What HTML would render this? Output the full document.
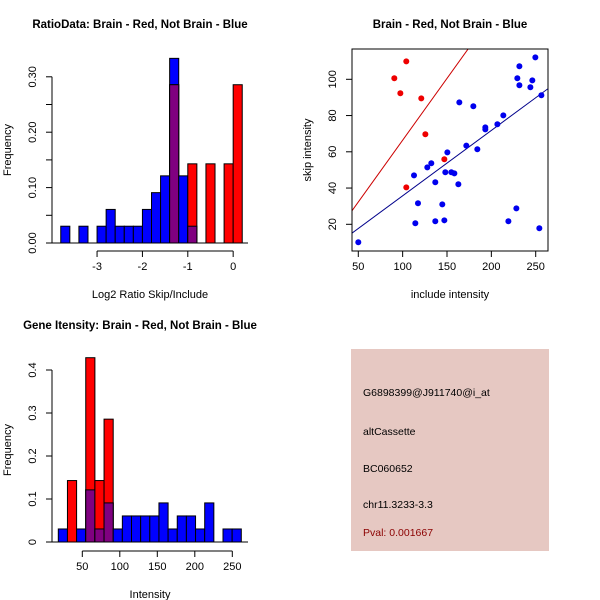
<!DOCTYPE html>
<html><head><meta charset="utf-8"><style>
body{margin:0;background:#fff}
svg{display:block;font-family:"Liberation Sans",sans-serif}
</style></head><body>
<svg id="c" width="600" height="600" viewBox="0 0 600 600"></svg>
<script>
// ---- Data: ratio histogram ----
const ratioBinStart = -3.8;
const ratioBinWidth = 0.2;
const ratioBlueFreq = [0.0303,0,0.0303,0,0.0303,0.0606,0.0303,0.0303,0.0303,0.0606,0.0909,0.1212,0.3333,0.1212,0.0303];
const ratioRedFreq  = [0,0,0,0,0,0,0,0,0,0,0,0,0.2857,0,0.1429,0,0.1429,0,0.1429,0.2857];
const ratioXTicks = [-3,-2,-1,0];
const ratioYTicks = [0,0.05,0.1,0.15,0.2,0.25,0.3];
const ratioYLabels = ["0.00","","0.10","","0.20","","0.30"];
// ---- Data: intensity histogram ----
const intBinStart = 18;
const intBinWidth = 12.2;
const intBlueFreq = [0.0303,0,0.0303,0.1212,0.0303,0.0909,0.0303,0.0606,0.0606,0.0606,0.0606,0.0909,0.0303,0.0606,0.0606,0.0303,0.0909,0,0.0303,0.0303];
const intRedFreq  = [0,0.1429,0,0.4286,0.1429,0.2857,0,0,0,0,0,0,0,0,0,0,0,0,0,0];
const intXTicks = [50,100,150,200,250];
const intYTicks = [0,0.1,0.2,0.3,0.4];
// ---- Data: scatter ----
const blueInclude = [50,112.8,114.3,117.3,127.8,132.3,136.8,136.8,144.7,147,148.1,150.4,154.9,158.3,162.8,163.9,171.8,179.7,184.2,193.2,193.2,206.8,213.5,219.2,228.2,229.3,231.6,231.6,244,246.2,249.6,256.4,254.1];
const blueSkip    = [10.1,47.0,20.6,31.6,51.4,53.7,43.2,21.7,31.0,22.2,48.7,59.7,48.7,48.1,42.1,87.3,63.4,85.1,61.4,73.5,72.4,75.2,80.1,21.7,28.8,100.6,107.2,96.7,95.6,99.4,112.1,91.2,17.8];
const redInclude  = [90.6,97.4,104.1,121,125.6,147,104.1];
const redSkip     = [100.6,92.3,109.9,89.5,69.7,55.9,40.4];
const fitSlopes = [0.682,0.3606];
const fitIntercepts = [-1.8,-0.33];
const scatXTicks = [50,100,150,200,250];
const scatYTicks = [20,40,60,80,100];
const infoLines = ["G6898399@J911740@i_at","altCassette","BC060652","chr11.3233-3.3","Pval: 0.001667"];

const svg = document.getElementById('c');
const NS = 'http://www.w3.org/2000/svg';
function mk(tag, attrs, parent){const e=document.createElementNS(NS,tag);for(const k in attrs)e.setAttribute(k,attrs[k]);(parent||svg).appendChild(e);return e;}
function txt(x,y,s,opt){const e=mk('text',Object.assign({x:x,y:y,'font-size':11,'text-anchor':'middle',fill:'#000'},opt||{}));e.textContent=s;return e;}

const r1x = v => 52 + (v + 3.96) * (196/4.32) + 1.5;
const r1y = v => 243 - v * 554;
const r3x = v => 82.3 + (v - 50) * 0.75;
const r3y = v => 542 - v * 430;
const sx = v => 358.3 + (v - 50) * 0.887;
const sy = v => 224.3 - (v - 20) * 1.8125;

function hist(g, blue, red, start, w, xs, ys, prefix){
  const n = Math.max(blue.length, red.length);
  for(let i=0;i<n;i++){
    const b = blue[i]||0, r = red[i]||0;
    const x0 = xs(start+i*w), x1 = xs(start+(i+1)*w);
    if(b>0){const e=mk('rect',{x:x0,y:ys(b),width:x1-x0,height:ys(0)-ys(b),fill:'#0000ff',stroke:'#000','stroke-width':1},g);
      
      }
    if(r>0){const e=mk('rect',{x:x0,y:ys(r),width:x1-x0,height:ys(0)-ys(r),fill:'#ff0000',stroke:'#000','stroke-width':1},g);
      
      }
    const m = Math.min(b,r);
    if(m>0){const e=mk('rect',{x:x0,y:ys(m),width:x1-x0,height:ys(0)-ys(m),fill:'#800080',stroke:'#000','stroke-width':1},g);
      
      }
  }
}
function xAxis(g, ticks, xs, y, labels){
  mk('line',{x1:xs(ticks[0]),x2:xs(ticks[ticks.length-1]),y1:y,y2:y,stroke:'#000'},g);
  ticks.forEach((t,i)=>{mk('line',{x1:xs(t),x2:xs(t),y1:y,y2:y+6,stroke:'#000'},g);
    const l=txt(xs(t),y+19,labels?labels[i]:String(t)); g.appendChild(l);});
}
function yAxis(g, ticks, ys, x, labels){
  mk('line',{x1:x,x2:x,y1:ys(ticks[0]),y2:ys(ticks[ticks.length-1]),stroke:'#000'},g);
  ticks.forEach((t,i)=>{mk('line',{x1:x-6,x2:x,y1:ys(t),y2:ys(t),stroke:'#000'},g);
    const s = labels?labels[i]:String(t);
    if(s){const l=txt(x-16,ys(t),s,{transform:`rotate(-90 ${x-16} ${ys(t)})`}); g.appendChild(l);}});
}

// Panel 1
const g1 = mk('g',{});


hist(g1, ratioBlueFreq, ratioRedFreq, ratioBinStart, ratioBinWidth, r1x, r1y, 'ratio');
mk('line',{x1:52,x2:248,y1:r1y(0),y2:r1y(0),stroke:'#000'},g1);
xAxis(g1, ratioXTicks, r1x, 251);
yAxis(g1, ratioYTicks, r1y, 52, ratioYLabels);
g1.appendChild(txt(140,28,'RatioData: Brain - Red, Not Brain - Blue',{'font-weight':'bold','font-size':11.5,}));
g1.appendChild(txt(150,298,'Log2 Ratio Skip/Include',{}));
g1.appendChild(txt(11,150,'Frequency',{transform:'rotate(-90 11 150)',}));

// Panel 3
const g3 = mk('g',{});


hist(g3, intBlueFreq, intRedFreq, intBinStart, intBinWidth, r3x, r3y, 'intensity');
mk('line',{x1:52,x2:248,y1:r3y(0),y2:r3y(0),stroke:'#000'},g3);
xAxis(g3, intXTicks, r3x, 551);
yAxis(g3, intYTicks, r3y, 52);
g3.appendChild(txt(140,329,'Gene Itensity: Brain - Red, Not Brain - Blue',{'font-weight':'bold','font-size':11.5,}));
g3.appendChild(txt(150,598,'Intensity',{}));
g3.appendChild(txt(11,450,'Frequency',{transform:'rotate(-90 11 450)',}));

// Scatter
const g2 = mk('g',{});


const cp = mk('clipPath',{id:'clip2'},g2); mk('rect',{x:352,y:49,width:196,height:202},cp);
const lc = ['#cc0000','#00008b'];
fitSlopes.forEach((s,i)=>{const x0=40,x1=270;
  const l=mk('line',{x1:sx(x0),y1:sy(fitIntercepts[i]+s*x0),x2:sx(x1),y2:sy(fitIntercepts[i]+s*x1),stroke:lc[i],'clip-path':'url(#clip2)'},g2);
  
  });
blueInclude.forEach((v,i)=>{const c=mk('circle',{cx:sx(v),cy:sy(blueSkip[i]),r:3,fill:'#0000ee'},g2);
  
  });
redInclude.forEach((v,i)=>{const c=mk('circle',{cx:sx(v),cy:sy(redSkip[i]),r:3,fill:'#ee0000'},g2);
  
  });
mk('rect',{x:352,y:49,width:196,height:202,fill:'none',stroke:'#000'},g2);
scatXTicks.forEach(t=>{mk('line',{x1:sx(t),x2:sx(t),y1:251,y2:257,stroke:'#000'},g2);g2.appendChild(txt(sx(t),270,String(t)));});
scatYTicks.forEach(t=>{mk('line',{x1:346,x2:352,y1:sy(t),y2:sy(t),stroke:'#000'},g2);g2.appendChild(txt(336,sy(t),String(t),{transform:`rotate(-90 336 ${sy(t)})`}));});
g2.appendChild(txt(450,28,'Brain - Red, Not Brain - Blue',{'font-weight':'bold','font-size':11.5,}));
g2.appendChild(txt(450,298,'include intensity',{}));
g2.appendChild(txt(311,150,'skip intensity',{transform:'rotate(-90 311 150)',}));

// Info panel
const g4 = mk('g',{});


mk('rect',{x:351,y:349,width:198,height:202,fill:'#e6c8c2'},g4);
const infoY=[396,435,472,508,536];
infoLines.forEach((s,i)=>{const t=txt(363,infoY[i],s,{'text-anchor':'start','font-size':10.5,fill:i==4?'#8b0000':'#000'});g4.appendChild(t);
  
  });
</script>
</body></html>
